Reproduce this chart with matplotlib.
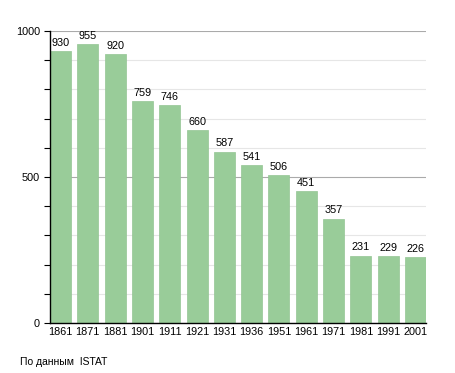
import matplotlib.pyplot as plt
import numpy as np

plt.rcParams['font.family'] = ['Liberation Sans', 'DejaVu Sans']

years = ['1861', '1871', '1881', '1901', '1911', '1921', '1931',
         '1936', '1951', '1961', '1971', '1981', '1991', '2001']
population = [930, 955, 920, 759, 746, 660, 587, 541, 506, 451, 357, 231, 229, 226]

fig = plt.figure(figsize=(4.55, 3.73), dpi=100)
ax = fig.add_axes([50/455, 1 - 323/373, 376/455, 292/373])

w = 0.77
x = np.arange(len(years))
ax.bar(x, population, width=w, color='#99cc99', edgecolor='#93c493', linewidth=0.5, zorder=2)

for xi, v in zip(x, population):
    ax.text(xi, v + 12, str(v), ha='center', va='bottom', fontsize=7.8, color='black')

ax.set_xlim(-w/2, len(years) - 1 + w/2)
ax.set_ylim(0, 1000)
ax.set_xticks(x)
ax.set_xticklabels(years, fontsize=7.8)
ax.tick_params(axis='x', length=0, pad=3)

ax.set_yticks([0, 500, 1000])
ax.set_yticks(np.arange(0, 1001, 100), minor=True)
ax.set_yticklabels(['0', '500', '1000'], fontsize=7.8)
ax.tick_params(axis='y', which='both', length=4.3, width=0.8, direction='out', pad=3)

ax.yaxis.grid(True, which='minor', color='#e6e6e6', linewidth=0.8, zorder=0)
ax.yaxis.grid(True, which='major', color='#aaaaaa', linewidth=0.8, zorder=0)
ax.set_axisbelow(True)

ax.spines['top'].set_visible(False)
ax.spines['right'].set_visible(False)
ax.spines['left'].set_linewidth(1)
ax.spines['bottom'].set_linewidth(1)

fig.text(20/455, 1 - 362/373, 'По данным  ISTAT', fontsize=7.5, ha='left', va='center')

fig.savefig('out.png', dpi=100)
